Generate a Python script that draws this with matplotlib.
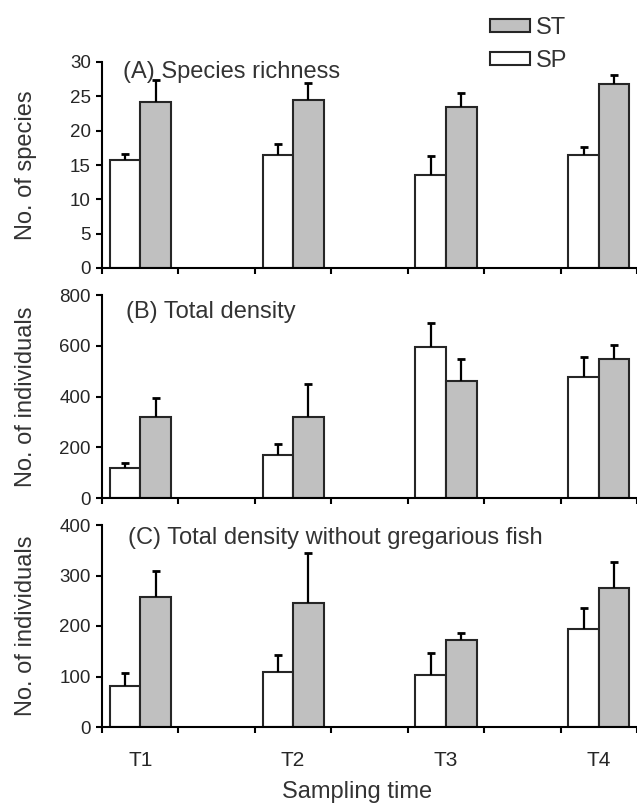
import matplotlib
matplotlib.use('Agg')
import matplotlib.pyplot as plt
import matplotlib.transforms as mtransforms
from matplotlib.font_manager import FontProperties
import numpy as np

# ---------------- data ----------------
times = ['T1', 'T2', 'T3', 'T4']
series = ['SP', 'ST']
panel_titles = ['(A) Species richness', '(B) Total density',
                '(C) Total density without gregarious fish']
ylabels = ['No. of species', 'No. of individuals', 'No. of individuals']
ymax = [30, 800, 400]
ystep = [5, 200, 100]

richness_sp = [15.8, 16.4, 13.5, 16.4]
richness_sp_err = [0.8, 1.6, 2.8, 1.2]
richness_st = [24.2, 24.5, 23.4, 26.8]
richness_st_err = [3.2, 2.4, 2.1, 1.3]

density_sp = [118, 168, 595, 476]
density_sp_err = [20, 46, 96, 81]
density_st = [319, 319, 463, 548]
density_st_err = [77, 131, 84, 53]

nogreg_sp = [81, 109, 103, 194]
nogreg_sp_err = [25, 33, 44, 42]
nogreg_st = [258, 245, 173, 276]
nogreg_st_err = [51, 100, 13, 51]

panels = [
    (richness_sp, richness_sp_err, richness_st, richness_st_err),
    (density_sp, density_sp_err, density_st, density_st_err),
    (nogreg_sp, nogreg_sp_err, nogreg_st, nogreg_st_err),
]

# ---------------- style ----------------
SANS = ['Liberation Sans', 'DejaVu Sans']
NARROW = ['Liberation Sans Narrow', 'Liberation Sans', 'DejaVu Sans']
plt.rcParams['font.family'] = SANS

W, H = 637, 809
fig = plt.figure(figsize=(W / 100, H / 100), dpi=100)

def fx(px):
    return px / W

def fy(py):
    return 1 - py / H

# axes boxes in pixel coordinates (top, bottom)
boxes = [(62, 268), (295, 498), (525, 727)]
left_px, right_px = 102, 637

sp_color = 'white'
st_color = '#c0c0c0'
edge = '#262626'
text_col = '#262626'
bar_w = 0.4

slot = np.arange(len(times)) * 2  # every second category slot is empty

title_base = [78, 318, 544]
title_x = [123, 126, 128]


def hide_lower_caps(container):
    eb = container.errorbar
    if eb is None:
        return
    caplines = eb.lines[1]
    if len(caplines) >= 2:
        caplines[0].set_visible(False)


axes = []
for i, (sp, sp_e, st, st_e) in enumerate(panels):
    top, bot = boxes[i]
    ax = fig.add_axes([fx(left_px), fy(bot), fx(right_px - left_px), (bot - top) / H])
    axes.append(ax)
    ekw = dict(ecolor='black', elinewidth=1.6, capsize=3, capthick=2)
    b_sp = ax.bar(slot - bar_w / 2, sp, bar_w, color=sp_color, edgecolor=edge, linewidth=1.5,
                  yerr=[np.zeros(len(sp)), sp_e], error_kw=ekw, label='SP', zorder=2)
    b_st = ax.bar(slot + bar_w / 2, st, bar_w, color=st_color, edgecolor=edge, linewidth=1.5,
                  yerr=[np.zeros(len(st)), st_e], error_kw=ekw, label='ST', zorder=2)
    hide_lower_caps(b_sp)
    hide_lower_caps(b_st)
    ax.set_xlim(-0.5, 6.5)
    ax.set_ylim(0, ymax[i])
    ax.set_yticks(np.arange(0, ymax[i] + 1, ystep[i]))
    ax.set_xticks(np.arange(-0.5, 7.0, 1.0))
    ax.set_xticklabels([])
    for s in ['top', 'right']:
        ax.spines[s].set_visible(False)
    for s in ['left', 'bottom']:
        ax.spines[s].set_linewidth(1.5)
        ax.spines[s].set_color('black')
    ax.tick_params(axis='both', which='major', direction='out', length=4, width=1.5, color='black')
    ax.tick_params(axis='y', pad=4, labelcolor=text_col)
    for lab in ax.get_yticklabels():
        lab.set_fontproperties(FontProperties(family=NARROW, size=13.5))
    ax.set_ylabel(ylabels[i], fontsize=17, color='#333333')
    ax.yaxis.set_label_coords(fx(37), 0.5,
                              transform=mtransforms.blended_transform_factory(fig.transFigure, ax.transAxes))
    fig.text(fx(title_x[i]), fy(title_base[i]), panel_titles[i], fontsize=17,
             ha='left', va='baseline', color='#333333')
    if i == 0:
        handles = [b_st, b_sp]

# x labels on bottom panel
axc = axes[-1]
axc.set_xticks(slot, times, minor=True)
axc.tick_params(axis='x', which='minor', length=0, pad=17, labelcolor=text_col)
for lab in axc.get_xticklabels(minor=True):
    lab.set_fontproperties(FontProperties(family=NARROW, size=15))
fig.text(fx(357), fy(798), 'Sampling time', fontsize=17, ha='center', va='baseline', color='#333333')

leg = fig.legend(handles=handles, labels=['ST', 'SP'], loc='upper left',
                 bbox_to_anchor=(fx(490), fy(17)), frameon=False, borderpad=0, borderaxespad=0,
                 handlelength=1.68, handleheight=0.45, handletextpad=0.25, labelspacing=0.45,
                 prop=FontProperties(family=NARROW, size=17))
for t in leg.get_texts():
    t.set_color('#333333')

fig.savefig('out.png', dpi=100)
